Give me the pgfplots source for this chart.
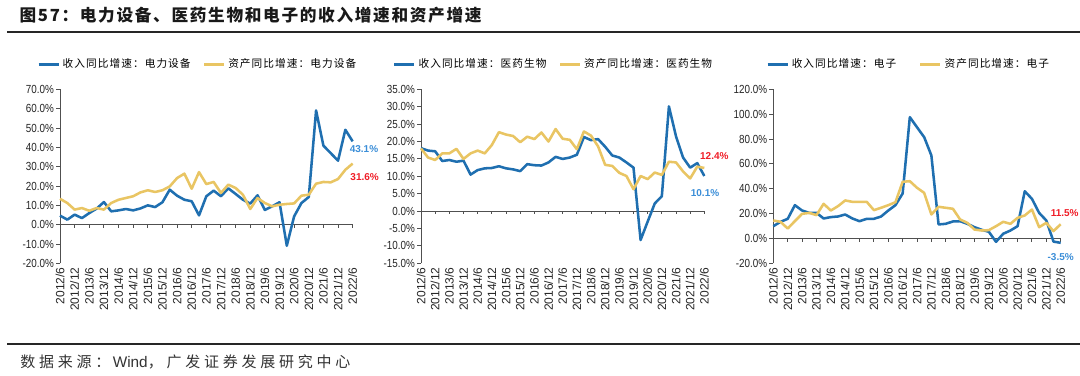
\documentclass[border=0pt]{standalone}
\usepackage{fontspec}
\usepackage{pgfplots}
\usepackage{pgfplotstable}
\pgfplotsset{compat=1.18}
\setmainfont{Liberation Sans}
\newfontfamily\cjk{Noto Sans CJK SC}
\newfontfamily\titlefont[LetterSpace=10]{Noto Sans CJK SC}
\newfontfamily\legfont[LetterSpace=10]{Noto Sans CJK SC}
\newfontfamily\footfont[LetterSpace=25]{Noto Sans CJK SC}

\definecolor{revblue}{RGB}{31,111,176}
\definecolor{astyellow}{RGB}{233,197,99}
\definecolor{lblblue}{RGB}{59,142,216}
\definecolor{lblred}{RGB}{240,30,40}
\definecolor{axisgray}{RGB}{80,80,80}

\pgfplotstableread{
x rev ast
0 4.7 13.4
1 2.6 11.2
2 5.2 7.8
3 3.4 8.6
4 6.0 7.2
5 8.3 8.6
6 11.7 7.8
7 6.9 11.2
8 7.4 12.9
9 8.1 13.8
10 7.4 14.7
11 8.4 16.7
12 10.0 17.8
13 9.1 16.9
14 11.6 17.8
15 18.1 19.8
16 15.0 24.1
17 12.9 26.4
18 12.1 18.6
19 4.8 27.2
20 14.7 21.0
21 17.6 22.1
22 14.7 16.4
23 18.8 20.7
24 15.9 19.0
25 12.9 15.5
26 10.9 8.1
27 15.2 13.8
28 7.6 11.2
29 9.5 9.5
30 11.6 10.3
31 -10.9 10.7
32 4.3 11.0
33 11.2 15.0
34 14.3 15.5
35 59.1 21.2
36 40.9 22.1
37 37.0 21.9
38 33.1 23.6
39 49.1 28.4
40 43.1 31.6
}\dataA

\pgfplotstableread{
x rev ast
0 18.1 18.0
1 17.4 15.4
2 17.2 14.7
3 14.4 16.6
4 14.7 16.6
5 14.2 17.9
6 14.5 15.0
7 10.5 16.6
8 11.8 17.4
9 12.3 16.6
10 12.4 19.0
11 12.9 22.7
12 12.3 22.0
13 12.0 21.6
14 11.5 19.8
15 13.5 21.4
16 13.2 20.7
17 13.1 22.6
18 14.0 20.0
19 15.6 23.6
20 15.0 20.8
21 15.4 20.5
22 16.2 17.8
23 21.3 22.9
24 20.4 21.7
25 20.7 18.6
26 18.5 13.3
27 16.0 13.0
28 15.4 11.0
29 14.0 10.1
30 12.5 6.3
31 -8.3 10.1
32 -3.0 9.2
33 2.2 11.1
34 4.3 10.4
35 30.1 14.2
36 21.5 14.0
37 15.4 11.4
38 12.5 9.4
39 13.8 12.8
40 10.1 12.4
}\dataB

\pgfplotstableread{
x rev ast
0 9.9 14.5
1 13.4 13.4
2 15.8 8.0
3 26.8 14.0
4 22.5 19.8
5 20.6 20.6
6 20.6 18.8
7 16.1 27.9
8 17.2 22.5
9 17.7 26.0
10 19.3 30.6
11 16.1 29.5
12 13.9 29.5
13 15.8 29.5
14 15.8 22.8
15 17.7 24.7
16 22.5 26.8
17 26.8 29.2
18 36.2 45.6
19 97.6 46.1
20 89.5 40.8
21 81.5 36.7
22 66.8 19.3
23 11.3 25.5
24 11.8 24.7
25 13.7 23.9
26 13.9 15.3
27 11.8 12.6
28 9.1 7.2
29 7.0 6.4
30 5.4 6.7
31 -2.7 9.9
32 3.8 13.4
33 6.4 11.8
34 9.9 16.6
35 38.0 18.5
36 31.9 23.3
37 20.6 9.1
38 14.5 12.6
39 -2.5 5.9
40 -3.5 11.5
}\dataC

\newcommand{\zeroline}{%
  \draw[axisgray, line width=0.75pt] (axis cs:0,0) -- (axis cs:40,0);
  \pgfplotsinvokeforeach{0,2,...,40}{\draw[axisgray, line width=0.75pt] (axis cs:##1,0) -- ++(0pt,-2.5pt);}%
}

\tikzset{lbl/.style={font=\bfseries\fontsize{7.5pt}{9pt}\selectfont}}

\pgfplotsset{
  panel/.style={
    scale only axis, height=130.5pt, anchor=south west,
    xmin=0, xmax=40, clip=false,
    axis x line*=bottom, axis y line*=left,
    x axis line style={draw=none},
    y axis line style={draw=axisgray, line width=0.75pt},
    xtick={0,2,...,40},
    xticklabels={2012/6,2012/12,2013/6,2013/12,2014/6,2014/12,2015/6,2015/12,2016/6,2016/12,2017/6,2017/12,2018/6,2018/12,2019/6,2019/12,2020/6,2020/12,2021/6,2021/12,2022/6},
    x tick style={draw=none},
    xticklabel style={rotate=90, anchor=east, inner sep=0pt, font=\fontsize{9pt}{10pt}\selectfont, text=black!85},
    y tick style={draw=axisgray, line width=0.75pt},
    tick align=outside, major tick length=3pt,
    scaled y ticks=false,
    yticklabel style={anchor=east, inner sep=0pt, xshift=-1.5pt, xscale=0.84, font=\fontsize{8.8pt}{10pt}\selectfont, text=black!85},
    yticklabel={\pgfmathprintnumber[fixed,fixed zerofill,precision=1]{\tick}\%},
    /pgf/number format/assume math mode=true,
    legend style={draw=none, fill=none, legend columns=2, anchor=center,
      font=\legfont\fontsize{8pt}{9pt}\selectfont,
      /tikz/every even column/.append style={column sep=7pt},
      inner sep=0pt, row sep=0pt},
    legend cell align=left,
    legend image code/.code={\draw[##1, line width=2.2pt] (0pt,0pt) -- (15pt,0pt);},
  },
  revline/.style={revblue, line width=1.9pt, line join=round},
  astline/.style={astyellow, line width=1.9pt, line join=round},
}

\begin{document}
\begin{tikzpicture}
\useasboundingbox (0,0) rectangle (810pt,-281.25pt);
\fill[white] (0,0) rectangle (810pt,-281.25pt);

% title
\node[anchor=west, inner sep=0pt, text=black!90] at (14.5pt,-11.25pt)
  {\titlefont\bfseries\fontsize{12.5pt}{14pt}\selectfont 图57：电力设备、医药生物和电子的收入增速和资产增速};
\draw[black!85, line width=1.5pt] (5.25pt,-24pt) -- (810pt,-24pt);

% footer
\draw[black!85, line width=0.9pt] (5.25pt,-258pt) -- (810pt,-258pt);
\node[anchor=west, inner sep=0pt, text=black!80] at (15pt,-271.5pt)
  {\footfont\fontsize{11.25pt}{13pt}\selectfont 数据来源：{\fontspec{Liberation Sans}\fontsize{11.5pt}{13pt}\selectfont\,Wind}，广发证券发展研究中心};

% panel 1
\begin{axis}[panel, at={(45pt,-197.5pt)}, width=219.5pt,
  ymin=-20, ymax=70, ytick={-20,-10,...,70},
  legend style={at={(0.4715,1.1454)}}]
\zeroline
\addplot[revline] table[x=x,y=rev]{\dataA} node[pos=1, lbl, text=lblblue, xshift=8.5pt, yshift=-6pt]{43.1\%};
\addplot[astline] table[x=x,y=ast]{\dataA} node[pos=1, lbl, text=lblred, xshift=9pt, yshift=-10pt]{31.6\%};
\legend{收入同比增速：电力设备, 资产同比增速：电力设备}
\end{axis}

% panel 2
\begin{axis}[panel, at={(315.75pt,-197.5pt)}, width=212.5pt,
  ymin=-15, ymax=35, ytick={-15,-10,...,35},
  legend style={at={(0.469,1.1454)}}]
\zeroline
\addplot[revline] table[x=x,y=rev]{\dataB} node[pos=1, lbl, text=lblblue, xshift=0pt, yshift=-12pt]{10.1\%};
\addplot[astline] table[x=x,y=ast]{\dataB} node[pos=1, lbl, text=lblred, xshift=7.5pt, yshift=9pt]{12.4\%};
\legend{收入同比增速：医药生物, 资产同比增速：医药生物}
\end{axis}

% panel 3
\begin{axis}[panel, at={(580pt,-197.5pt)}, width=215.5pt,
  ymin=-20, ymax=120, ytick={-20,0,...,120},
  legend style={at={(0.472,1.1454)}, /tikz/every even column/.append style={column sep=15pt}}]
\zeroline
\addplot[revline] table[x=x,y=rev]{\dataC} node[pos=1, lbl, text=lblblue, xshift=0pt, yshift=-10.5pt]{-3.5\%};
\addplot[astline] table[x=x,y=ast]{\dataC} node[pos=1, lbl, text=lblred, xshift=3pt, yshift=8.5pt]{11.5\%};
\legend{收入同比增速：电子, 资产同比增速：电子}
\end{axis}
\end{tikzpicture}
\end{document}
